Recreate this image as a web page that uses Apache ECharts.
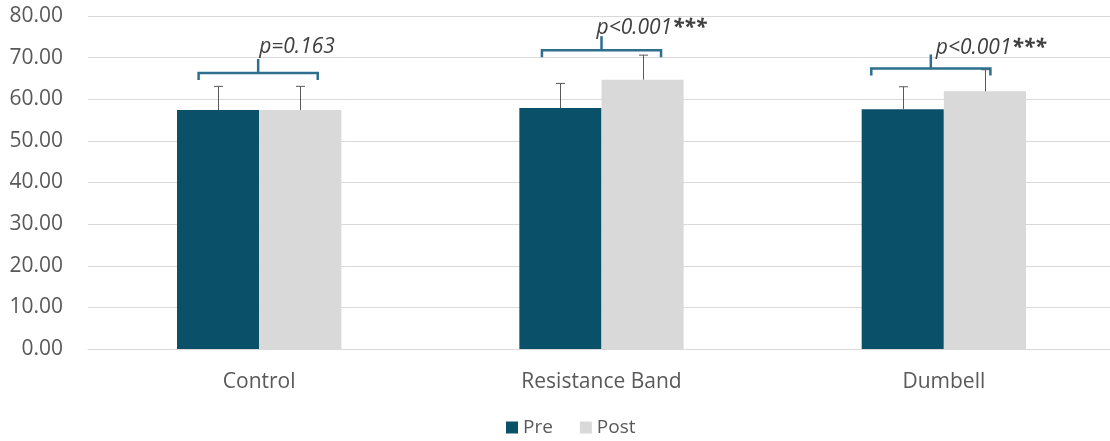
<!DOCTYPE html>
<html>
<head>
<meta charset="utf-8">
<script src="https://cdn.jsdelivr.net/npm/echarts@6/dist/echarts.min.js"></script>
<style>
html,body{margin:0;padding:0;background:#fff;overflow:hidden;width:1110px;height:441px;}
#chart{width:1120px;height:441px;}
</style>
</head>
<body>
<div id="chart"></div>
<script>
// ---- data ----
var categories = ['Control', 'Resistance Band', 'Dumbell'];
var preMean = [57.4, 57.9, 57.6];
var postMean = [57.4, 64.7, 61.9];
var preSD = [5.7, 5.9, 5.4];
var postSD = [5.7, 5.9, 5.2];
var pValues = ['p=0.163', 'p<0.001', 'p<0.001'];
var pStars = ['', '***', '***'];
var bracketLevel = [66.3, 71.8, 67.4];
var yTicks = [0, 10, 20, 30, 40, 50, 60, 70, 80];

// ---- layout / style ----
var GAP = 0.52;
var bracketShiftPx = [-1, 0, -13];
var textOffsetPx = [[1, -15.5], [-5, -11.5], [5, -9.5]];
var TEXT = '#595959';
var PRE = '#0b5069';
var POST = '#d9d9d9';
var BRACKET = '#2f6f8e';
var FONT = '"Open Sans", sans-serif';

var chart = echarts.init(document.getElementById('chart'));

function errData(means, sds) {
  return means.map(function (m, i) { return [i, m, sds[i]]; });
}
function errRender(side) {
  return function (params, api) {
    var i = api.value(0), m = api.value(1), sd = api.value(2);
    var band = api.size([1, 0])[0];
    var bw = band * (1 - GAP) / 2;
    var c = api.coord([i, m]);
    var t = api.coord([i, m + sd]);
    var x = Math.round(c[0] + side * bw / 2) + 0.5;
    var style = { stroke: '#595959', lineWidth: 1 };
    return {
      type: 'group',
      children: [
        { type: 'line', shape: { x1: x, y1: c[1], x2: x, y2: t[1] }, style: style },
        { type: 'line', shape: { x1: x - 4.5, y1: t[1], x2: x + 4.5, y2: t[1] }, style: style }
      ]
    };
  };
}

var bracketData = bracketLevel.map(function (v, i) { return [i, v]; });

var option = {
  animation: false,
  backgroundColor: '#fff',
  grid: { left: 88, top: 16, width: 1027, height: 333, containLabel: false },
  legend: {
    data: ['Pre', 'Post'],
    left: 501, top: 413,
    icon: 'rect', itemWidth: 12, itemHeight: 12, itemGap: 27,
    textStyle: { color: TEXT, fontSize: 19, fontFamily: FONT }
  },
  xAxis: {
    type: 'category',
    data: categories,
    axisLine: { show: true, lineStyle: { color: '#d9d9d9', width: 1 } },
    axisTick: { show: false },
    axisLabel: { color: TEXT, fontSize: 21, fontFamily: FONT, margin: 23 }
  },
  yAxis: {
    type: 'value',
    min: yTicks[0], max: yTicks[yTicks.length - 1], interval: yTicks[1] - yTicks[0],
    axisLine: { show: false },
    axisTick: { show: false },
    splitLine: { lineStyle: { color: '#d9d9d9', width: 1 } },
    axisLabel: {
      color: TEXT, fontSize: 21, fontFamily: FONT, margin: 25,
      formatter: function (v) { return v.toFixed(2); }
    }
  },
  series: [
    { name: 'Pre', type: 'bar', data: preMean, barGap: 0, barCategoryGap: (GAP * 100) + '%',
      itemStyle: { color: PRE } },
    { name: 'Post', type: 'bar', data: postMean, barGap: 0, barCategoryGap: (GAP * 100) + '%',
      itemStyle: { color: POST } },
    { name: 'preErr', type: 'custom', data: errData(preMean, preSD), renderItem: errRender(-1), z: 5 },
    { name: 'postErr', type: 'custom', data: errData(postMean, postSD), renderItem: errRender(1), z: 5 },
    { name: 'brackets', type: 'custom', data: bracketData, z: 6,
      renderItem: function (params, api) {
        var i = api.value(0), lv = api.value(1);
        var band = api.size([1, 0])[0];
        var half = band * 0.174;
        var p = api.coord([i, lv]);
        var cx = p[0] + bracketShiftPx[i], y = p[1];
        var st = { stroke: BRACKET, lineWidth: 2.5, fill: null };
        var off = textOffsetPx[i];
        var txt = '{a|' + pValues[i] + '}' + (pStars[i] ? '{s|' + pStars[i] + '}' : '');
        return {
          type: 'group',
          children: [
            { type: 'polyline', shape: { points: [[cx - half, y + 7], [cx - half, y], [cx + half, y], [cx + half, y + 7]] }, style: st },
            { type: 'line', shape: { x1: cx, y1: y, x2: cx, y2: y - 14 }, style: st },
            { type: 'text', x: cx + off[0], y: y + off[1],
              style: { text: txt, fill: '#404040', fontSize: 21, fontStyle: 'italic',
                       fontFamily: FONT, textAlign: 'left', textVerticalAlign: 'bottom',
                       rich: {
                         a: { fontSize: 21, fontStyle: 'italic', fontFamily: FONT, fill: '#404040' },
                         s: { fontSize: 21, fontStyle: 'italic', fontWeight: 'bold', fontFamily: FONT, fill: '#404040' }
                       } } }
          ]
        };
      }
    }
  ]
};
chart.setOption(option);
</script>
</body>
</html>
